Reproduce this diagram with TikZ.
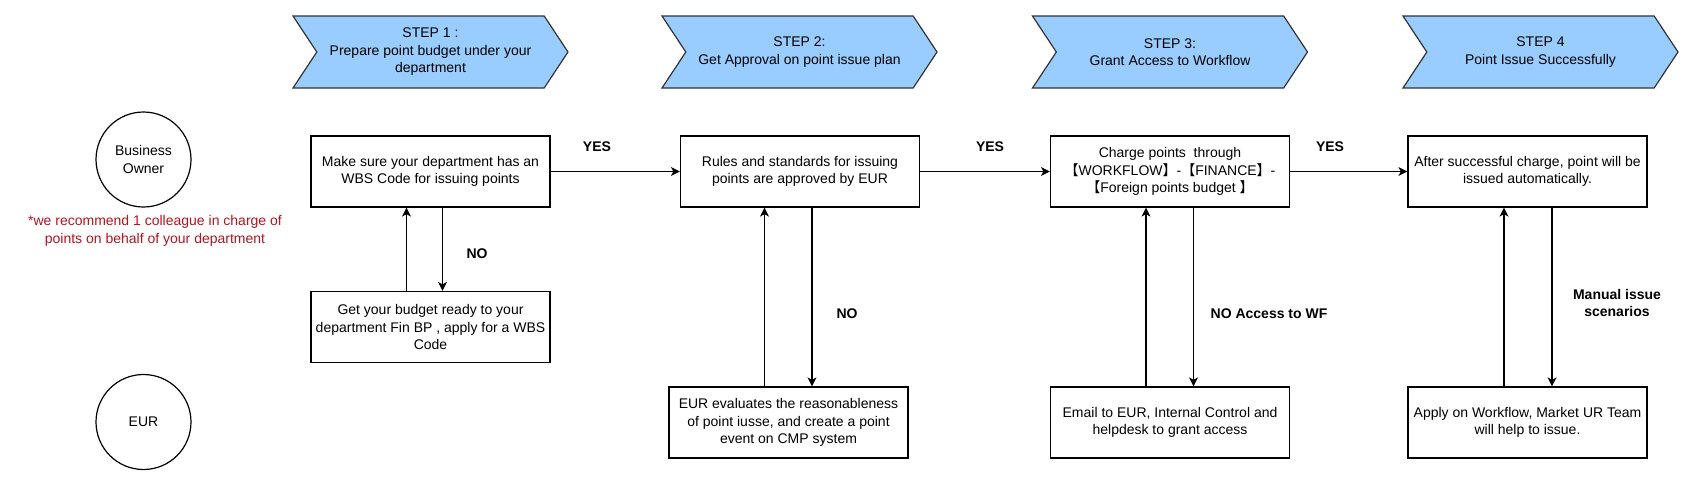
\documentclass[tikz,border=0pt]{standalone}
\usepackage{fontspec}
\setmainfont{Liberation Sans}
\newfontfamily\cjk{Noto Sans CJK SC}
\usetikzlibrary{arrows.meta,shapes}
\definecolor{stepblue}{RGB}{153,204,255}
\definecolor{notered}{RGB}{180,20,30}
\tikzstyle{stepbar}=[signal,signal from=west,signal to=east,signal pointer angle=113,draw=black!80,fill=stepblue,line width=1.2pt,minimum width=275pt,minimum height=72pt,align=center,inner sep=0pt]
\tikzstyle{pbox}=[rectangle,draw=black,line width=1.2pt,minimum width=239pt,minimum height=71pt,align=center,inner sep=2pt]
\tikzstyle{role}=[circle,draw=black,line width=1.2pt,minimum size=95pt,align=center,inner sep=0pt]
\tikzstyle{lbl}=[font=\fontsize{14}{17.5}\selectfont\bfseries,align=center]
\tikzstyle{dflow}=[-{Stealth[length=9pt,width=9pt,inset=2.5pt]}, line width=1.2pt]

\begin{document}
\begin{tikzpicture}[x=1pt,y=-1pt,font=\fontsize{14}{17.5}\selectfont,dflow]
\useasboundingbox (0,0) rectangle (1690,480);
% steps
\node[stepbar] (S1) at (430.5,52) {STEP 1 :\\Prepare point budget under your\\department};
\node[stepbar] (S2) at (799.5,52) {STEP 2:\\Get Approval on point issue plan};
\node[stepbar] (S3) at (1170,52) {STEP 3:\\Grant Access to Workflow};
\node[stepbar] (S4) at (1540.5,52) {STEP 4\\Point Issue Successfully};
% roles
\node[role] (BO) at (143.5,159.5) {Business\\Owner};
\node[align=center,text=notered] (note) at (155,231) {*we recommend 1 colleague in charge of\\points on behalf of your department};
\node[role] (EUR) at (143.5,422) {EUR};
% process boxes
\node[pbox] (B1) at (430.5,171.5) {Make sure your department has an\\WBS Code for issuing points};
\node[pbox] (B1b) at (430.5,327) {Get your budget ready to your\\department Fin BP , apply for a WBS\\Code};
\node[pbox] (B2) at (800,171.5) {Rules and standards for issuing\\points are approved by EUR};
\node[pbox] (B2b) at (788.5,422.5) {EUR evaluates the reasonableness\\of point iusse, and create a point\\event on CMP system};
\node[pbox] (B3) at (1170,171.5) {Charge points \ through\\{\cjk【}WORKFLOW{\cjk】}-{\cjk【}FINANCE{\cjk】}-\\{\cjk【}Foreign points budget {\cjk】}};
\node[pbox] (B3b) at (1170,422.5) {Email to EUR, Internal Control and\\helpdesk to grant access};
\node[pbox] (B4) at (1527.5,171.5) {After successful charge, point will be\\issued automatically.};
\node[pbox] (B4b) at (1527.5,422.5) {Apply on Workflow, Market UR Team\\will help to issue.};
% yes
\draw (B1) -- (B2);
\draw (B2) -- (B3);
\draw (B3) -- (B4);
\node[lbl] (y1) at (597,147) {YES};
\node[lbl] (y2) at (990,147) {YES};
\node[lbl] (y3) at (1330,147) {YES};
% loops
\draw ([xshift=12pt]B1.south) -- ([xshift=12pt]B1.south |- B1b.north);
\draw ([xshift=-24pt]B1b.north) -- ([xshift=-24pt]B1b.north |- B1.south);
\draw ([xshift=12pt]B2.south) -- ([xshift=12pt]B2.south |- B2b.north);
\draw ([xshift=-24pt]B2b.north) -- ([xshift=-24pt]B2b.north |- B2.south);
\draw ([xshift=23.5pt]B3.south) -- ([xshift=23.5pt]B3.south |- B3b.north);
\draw ([xshift=-24pt]B3b.north) -- ([xshift=-24pt]B3b.north |- B3.south);
\draw ([xshift=24.5pt]B4.south) -- ([xshift=24.5pt]B4.south |- B4b.north);
\draw ([xshift=-23.5pt]B4b.north) -- ([xshift=-23.5pt]B4b.north |- B4.south);
\node[lbl] (n1) at (477,254) {NO};
\node[lbl] (n2) at (847,314) {NO};
\node[lbl] (n3) at (1269,314) {NO Access to WF};
\node[lbl] (n4) at (1617,303) {Manual issue\\scenarios};
\end{tikzpicture}
\end{document}
